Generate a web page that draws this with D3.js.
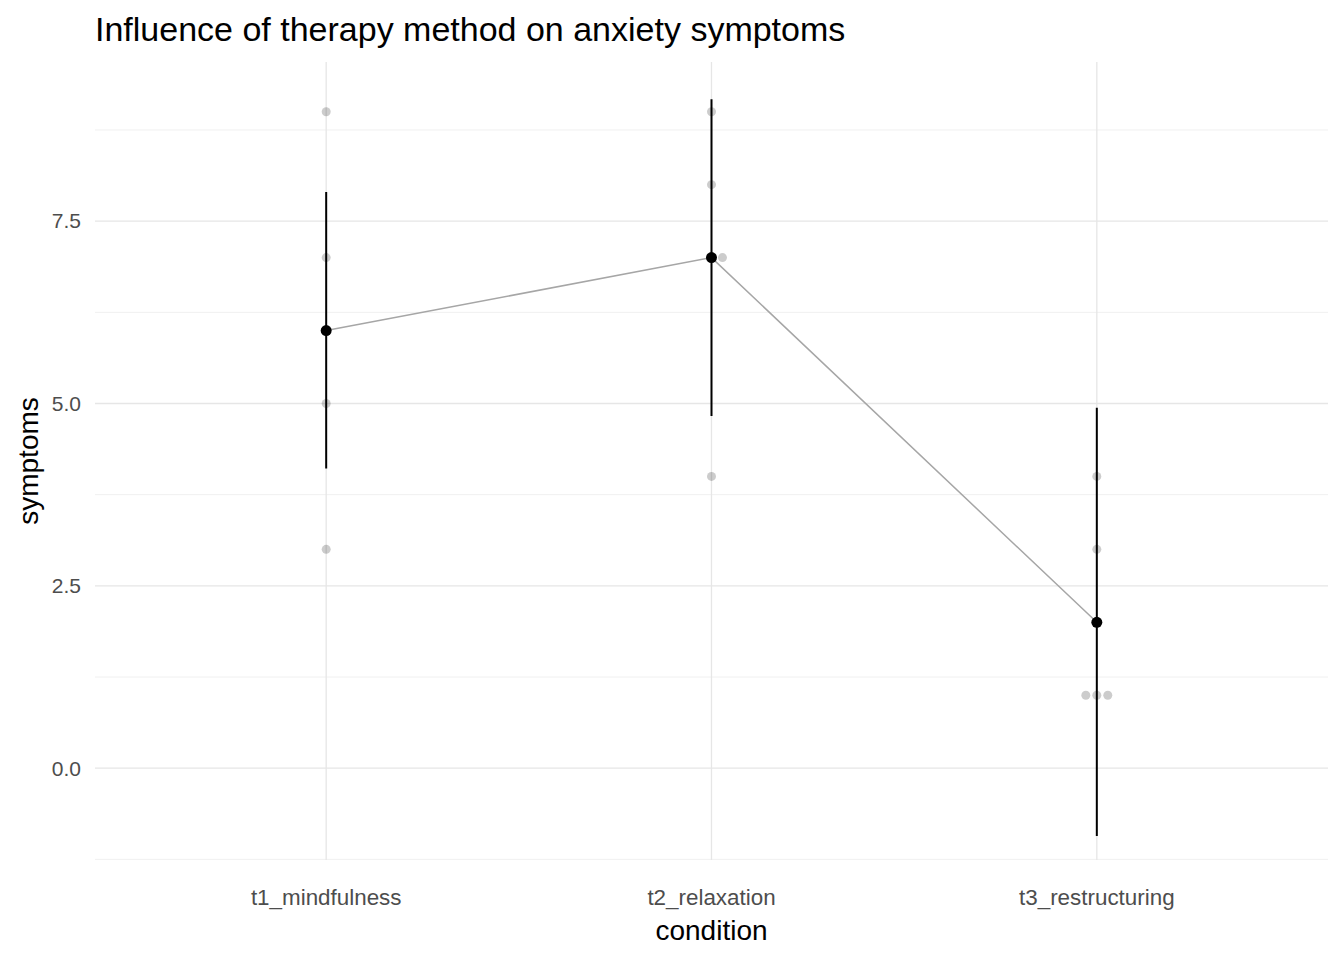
<!DOCTYPE html>
<html><head><meta charset="utf-8">
<script src="https://cdn.jsdelivr.net/npm/d3@7"></script>
<style>body{margin:0;background:#fff;font-family:Arial,"Liberation Sans",sans-serif;}</style>
</head><body><svg id="c" width="1344" height="960"></svg>
<script>
const categories = ["t1_mindfulness","t2_relaxation","t3_restructuring"];
const means = [6, 7, 2];
const ciLow = [4.11, 4.83, -0.93];
const ciHigh = [7.90, 9.17, 4.94];
// raw observations: [category index, value, jitter (in category units)]
const rawPoints = [
  [0,9,0],[0,7,0],[0,5,0],[0,3,0],
  [1,9,0],[1,8,0],[1,7,0],[1,7,0.0285],[1,4,0],
  [2,4,0],[2,3,0],[2,1,-0.0285],[2,1,0],[2,1,0.0285]
];
const yTicks = [0, 2.5, 5, 7.5];
const yMinor = [-1.25, 1.25, 3.75, 6.25, 8.75];

const svg = d3.select("#c");
const L=95, R=1328, T=62, B=860;
const x = d3.scalePoint().domain(categories).range([L,R]).padding(0.6);
const y = d3.scaleLinear().domain([-1.2586, 9.6817]).range([B,T]);
const xi = i => x(categories[i]);

const g = svg.append("g");
g.selectAll(".ym").data(yMinor).join("line").attr("x1",L).attr("x2",R)
 .attr("y1",d=>y(d)).attr("y2",d=>y(d)).attr("stroke","#f0f0f0").attr("stroke-width",1);
g.selectAll(".yM").data(yTicks).join("line").attr("x1",L).attr("x2",R)
 .attr("y1",d=>y(d)).attr("y2",d=>y(d)).attr("stroke","#e6e6e6").attr("stroke-width",1.3);
g.selectAll(".xM").data(categories).join("line").attr("y1",T).attr("y2",B)
 .attr("x1",d=>x(d)).attr("x2",d=>x(d)).attr("stroke","#e6e6e6").attr("stroke-width",1.3);

g.selectAll(".raw").data(rawPoints).join("circle")
 .attr("cx",d=>xi(d[0])+d[2]*x.step()).attr("cy",d=>y(d[1]))
 .attr("r",4.5).attr("fill","#000").attr("fill-opacity",0.2);

g.append("path").datum(means).attr("fill","none").attr("stroke","#a6a6a6").attr("stroke-width",1.5)
 .attr("d",d3.line().x((d,i)=>xi(i)).y(d=>y(d)));

g.selectAll(".eb").data(means).join("line").attr("x1",(d,i)=>xi(i)).attr("x2",(d,i)=>xi(i))
 .attr("y1",(d,i)=>y(ciLow[i])).attr("y2",(d,i)=>y(ciHigh[i])).attr("stroke","#000").attr("stroke-width",2);
g.selectAll(".mp").data(means).join("circle").attr("cx",(d,i)=>xi(i)).attr("cy",d=>y(d))
 .attr("r",5.5).attr("fill","#000");

g.selectAll(".yl").data(yTicks).join("text").attr("x",81).attr("y",d=>y(d)).attr("dy","0.35em")
 .attr("text-anchor","end").attr("font-size",21).attr("fill","#4d4d4d").text(d=>d.toFixed(1));
g.selectAll(".xl").data(categories).join("text").attr("x",d=>x(d)).attr("y",905)
 .attr("text-anchor","middle").attr("font-size",22.4).attr("fill","#4d4d4d").text(d=>d);
svg.append("text").attr("x",(L+R)/2).attr("y",940).attr("text-anchor","middle").attr("font-size",28).text("condition");
svg.append("text").attr("transform",`translate(38,${(T+B)/2}) rotate(-90)`).attr("text-anchor","middle")
 .attr("font-size",28).text("symptoms");
svg.append("text").attr("x",95).attr("y",41).attr("font-size",34).text("Influence of therapy method on anxiety symptoms");
</script></body></html>
